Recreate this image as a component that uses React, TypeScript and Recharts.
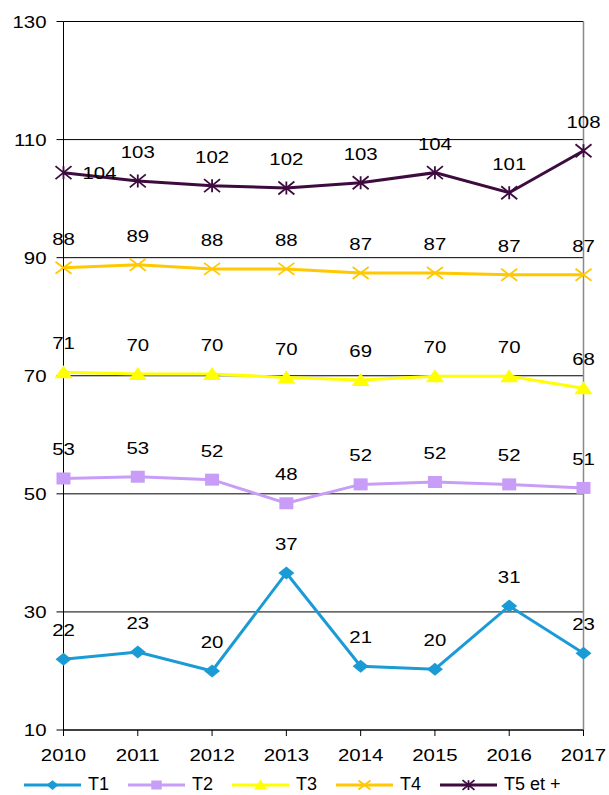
import React from "react";
import {
  CartesianGrid,
  LabelList,
  Legend,
  Line,
  LineChart,
  ReferenceLine,
  XAxis,
  YAxis
} from "recharts";

const years = ["2010", "2011", "2012", "2013", "2014", "2015", "2016", "2017"];
const t1 = [22.0, 23.2, 20.0, 36.6, 20.8, 20.3, 31.0, 23.0];
const t2 = [52.6, 52.9, 52.4, 48.4, 51.6, 52.0, 51.6, 51.0];
const t3 = [70.6, 70.3, 70.3, 69.7, 69.3, 69.9, 69.9, 67.9];
const t4 = [88.3, 88.8, 88.1, 88.1, 87.4, 87.4, 87.1, 87.1];
const t5 = [104.4, 103.0, 102.2, 101.8, 102.7, 104.4, 101.0, 108.1];
const yTicks = [10, 30, 50, 70, 90, 110, 130];

const series = [
  { key: "t1", name: "T1", color: "#1b9bd6", kind: "diamond" },
  { key: "t2", name: "T2", color: "#c89df7", kind: "square" },
  { key: "t3", name: "T3", color: "#ffff00", kind: "triangle" },
  { key: "t4", name: "T4", color: "#ffc800", kind: "cross" },
  { key: "t5", name: "T5 et +", color: "#3d0b3e", kind: "star" }
];

const data = years.map((year, i) => ({
  year,
  t1: t1[i],
  t2: t2[i],
  t3: t3[i],
  t4: t4[i],
  t5: t5[i]
}));

const FONT = "'Liberation Sans', Arial, sans-serif";
const STRETCH = "scale(1.2,1)";

function Marker({ kind, cx, cy, color, s = 1 }: any) {
  if (cx == null || cy == null) return null;
  const w = 8 * s;
  const h = 6.5 * s;
  switch (kind) {
    case "diamond":
      return (
        <polygon
          points={`${cx},${cy - h} ${cx + w},${cy} ${cx},${cy + h} ${cx - w},${cy}`}
          fill={color}
        />
      );
    case "square":
      return <rect x={cx - 7 * s} y={cy - 6 * s} width={14 * s} height={12 * s} fill={color} />;
    case "triangle":
      return (
        <polygon
          points={`${cx},${cy - 7 * s} ${cx + 9 * s},${cy + 6 * s} ${cx - 9 * s},${cy + 6 * s}`}
          fill={color}
        />
      );
    case "cross":
      return (
        <path
          d={`M${cx - w} ${cy - 6 * s}L${cx + w} ${cy + 6 * s}M${cx - w} ${cy + 6 * s}L${cx + w} ${cy - 6 * s}`}
          stroke={color}
          strokeWidth={1.8}
          fill="none"
        />
      );
    default:
      return (
        <path
          d={`M${cx - w} ${cy - h}L${cx + w} ${cy + h}M${cx - w} ${cy + h}L${cx + w} ${cy - h}M${cx} ${cy - h}L${cx} ${cy + h}`}
          stroke={color}
          strokeWidth={1.8}
          fill="none"
        />
      );
  }
}

function YTick({ x, y, payload }: any) {
  return (
    <g transform={`translate(${x},${y})`}>
      <text transform={STRETCH} textAnchor="end" dy="0.36em" fontSize={17} fontFamily={FONT} fill="#000">
        {payload.value}
      </text>
    </g>
  );
}

function XTick({ x, y, payload }: any) {
  return (
    <g transform={`translate(${x},${y})`}>
      <text transform={STRETCH} textAnchor="middle" dy="0.71em" fontSize={17} fontFamily={FONT} fill="#000">
        {payload.value}
      </text>
    </g>
  );
}

// value labels sit above each point; the first T5 label goes to the right of its marker
function makeLabel(shiftFirst: boolean) {
  return function ValueLabel({ x, y, value, index }: any) {
    const side = shiftFirst && index === 0;
    const lx = side ? x + 36 : x;
    const ly = side ? y + 6 : y - 23;
    return (
      <g transform={`translate(${lx},${ly})`}>
        <text transform={STRETCH} textAnchor="middle" fontSize={17} fontFamily={FONT} fill="#000">
          {Math.round(value)}
        </text>
      </g>
    );
  };
}

function renderLegend() {
  return (
    <div
      style={{
        display: "flex",
        alignItems: "center",
        gap: 19,
        paddingLeft: 24,
        paddingTop: 9,
        height: 21,
        fontFamily: FONT,
        fontSize: 18,
        lineHeight: "21px",
        whiteSpace: "nowrap"
      }}
    >
      {series.map((s) => (
        <div key={s.key} style={{ display: "flex", alignItems: "center", height: 21 }}>
          <svg width={57} height={14} style={{ display: "block" }}>
            <line x1={0} y1={7} x2={57} y2={7} stroke={s.color} strokeWidth={3} />
            <Marker kind={s.kind} cx={28.5} cy={7} color={s.color} s={0.75} />
          </svg>
          <span style={{ marginLeft: 7 }}>{s.name}</span>
        </div>
      ))}
    </div>
  );
}

export default function App() {
  return (
    <div style={{ position: "absolute", left: 0, top: 0, width: 609, height: 795, overflow: "hidden", background: "#fff" }}>
      <LineChart width={609} height={795} data={data} margin={{ top: 21.5, right: 25.5, left: 0, bottom: 0 }}>
        <CartesianGrid vertical={false} stroke="#000" strokeWidth={1} />
        <XAxis
          dataKey="year"
          height={35}
          tick={<XTick />}
          tickSize={6}
          tickMargin={13}
          stroke="#000"
          tickLine={{ stroke: "#000" }}
          axisLine={{ stroke: "#000" }}
        />
        <YAxis
          width={63.5}
          domain={[10, 130]}
          ticks={yTicks}
          interval={0}
          tick={<YTick />}
          tickSize={7}
          tickMargin={10}
          tickLine={{ stroke: "#000" }}
          axisLine={{ stroke: "#000" }}
        />
        <ReferenceLine x="2017" stroke="#8a8a8a" strokeWidth={1.5} />
        <Legend verticalAlign="bottom" height={30} content={renderLegend} wrapperStyle={{ left: 0, width: 609 }} />
        {series.map((s) => (
          <Line
            key={s.key}
            dataKey={s.key}
            name={s.name}
            stroke={s.color}
            strokeWidth={3}
            isAnimationActive={false}
            dot={(p: any) => <Marker key={`${s.key}-${p.index}`} kind={s.kind} cx={p.cx} cy={p.cy} color={s.color} />}
            activeDot={false}
          >
            <LabelList dataKey={s.key} content={makeLabel(s.key === "t5")} />
          </Line>
        ))}
      </LineChart>
    </div>
  );
}
